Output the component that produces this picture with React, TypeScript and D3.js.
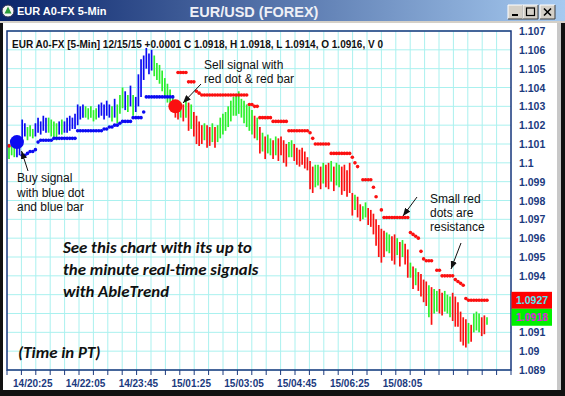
import React from "react";
import * as d3 from "d3";

const WIDTH = 565;
const HEIGHT = 396;

// ---------- data ----------
const priceTicks = d3.range(1089, 1108).map((v) => v / 1000);
const timeLabels = ["14/20:25", "14/22:05", "14/23:45", "15/01:25", "15/03:05", "15/04:45", "15/06:25", "15/08:05"];
const firstLabelBar = 9;
const barsPerLabel = 20;

const barColors = (
  "GGGBBBBGGG" + "BBBBBGGGGB" + "GBBBBBBBBG" + "GGGGBBBBBG" + "BGGGBGBGBB" +
  "BBBBBGGGGG" + "GGGRRGRGRG" + "RRRRGRRGRG" + "GGGGGGGGGG" + "GGGRGRGRGG" +
  "RGRRRRGGRR" + "RRRRRRGGRG" + "RRGRGGRRRR" + "RGRRGGRRRR" + "RRRGGRRGRG" +
  "RRGRGRRRRG" + "RGGRRGGGRR" + "RRRRGRGGGR" + "RG"
).split("");

const highs = [
  1.1010, 1.1012, 1.1010, 1.1013, 1.1012, 1.1023, 1.1021, 1.1019, 1.1020, 1.1018,
  1.1021, 1.1024, 1.1022, 1.1025, 1.1024, 1.1024, 1.1023, 1.1022, 1.1021, 1.1022,
  1.1023, 1.1022, 1.1024, 1.1025, 1.1024, 1.1026, 1.1031, 1.1030, 1.1031, 1.1030,
  1.1029, 1.1030, 1.1028, 1.1029, 1.1031, 1.1032, 1.1031, 1.1033, 1.1031, 1.1030,
  1.1034, 1.1031, 1.1036, 1.1040, 1.1038, 1.1036, 1.1041, 1.1036, 1.1035, 1.1047,
  1.1055, 1.1057, 1.1061, 1.1058, 1.1060, 1.1057, 1.1053, 1.1052, 1.1049, 1.1045,
  1.1042, 1.1039, 1.1036, 1.1033, 1.1031, 1.1032, 1.1031, 1.1033, 1.1032, 1.1031,
  1.1027, 1.1025, 1.1022, 1.1020, 1.1021, 1.1020, 1.1019, 1.1021, 1.1019, 1.1020,
  1.1024, 1.1026, 1.1027, 1.1030, 1.1033, 1.1035, 1.1036, 1.1038, 1.1034, 1.1033,
  1.1031, 1.1030, 1.1028, 1.1025, 1.1024, 1.1019, 1.1016, 1.1014, 1.1015, 1.1013,
  1.1012, 1.1014, 1.1013, 1.1014, 1.1012, 1.1010, 1.1011, 1.1012, 1.1010, 1.1008,
  1.1007, 1.1008, 1.1006, 1.1003, 1.1001, 1.0998, 1.0999, 1.0999, 1.0998, 1.1000,
  1.0999, 1.1000, 1.1001, 1.0998, 1.1000, 1.0999, 1.0998, 1.0999, 1.0996, 1.1000,
  1.0984, 1.0983, 1.0982, 1.0978, 1.0977, 1.0979, 1.0976, 1.0975, 1.0973, 1.0970,
  1.0967, 1.0965, 1.0964, 1.0963, 1.0962, 1.0961, 1.0962, 1.0960, 1.0958, 1.0959,
  1.0957, 1.0954, 1.0947, 1.0945, 1.0944, 1.0942, 1.0941, 1.0938, 1.0937, 1.0935,
  1.0934, 1.0933, 1.0932, 1.0933, 1.0931, 1.0932, 1.0930, 1.0929, 1.0931, 1.0929,
  1.0926, 1.0921, 1.0918, 1.0917, 1.0915, 1.0914, 1.0920, 1.0921, 1.0920, 1.0918,
  1.0919, 1.0918,
];

const lows = [
  1.1002, 1.1004, 1.1003, 1.1003, 1.1004, 1.1012, 1.1014, 1.1012, 1.1014, 1.1013,
  1.1014, 1.1016, 1.1015, 1.1017, 1.1016, 1.1016, 1.1014, 1.1013, 1.1012, 1.1015,
  1.1015, 1.1016, 1.1016, 1.1017, 1.1018, 1.1018, 1.1020, 1.1023, 1.1024, 1.1024,
  1.1023, 1.1024, 1.1022, 1.1023, 1.1024, 1.1025, 1.1023, 1.1025, 1.1024, 1.1022,
  1.1024, 1.1021, 1.1026, 1.1029, 1.1028, 1.1027, 1.1030, 1.1025, 1.1027, 1.1030,
  1.1035, 1.1044, 1.1050, 1.1047, 1.1049, 1.1046, 1.1044, 1.1042, 1.1038, 1.1035,
  1.1032, 1.1030, 1.1028, 1.1024, 1.1023, 1.1024, 1.1022, 1.1024, 1.1017, 1.1018,
  1.1014, 1.1010, 1.1009, 1.1010, 1.1012, 1.1008, 1.1009, 1.1011, 1.1008, 1.1011,
  1.1013, 1.1015, 1.1017, 1.1019, 1.1022, 1.1025, 1.1025, 1.1026, 1.1024, 1.1021,
  1.1019, 1.1017, 1.1015, 1.1013, 1.1012, 1.1005, 1.1006, 1.1002, 1.1005, 1.1004,
  1.1002, 1.1004, 1.1001, 1.1004, 1.1000, 1.0998, 1.1003, 1.1003, 1.1001, 1.0999,
  1.0998, 1.0999, 1.0997, 1.0996, 1.0986, 1.0984, 1.0987, 1.0988, 1.0986, 1.0989,
  1.0987, 1.0986, 1.0990, 1.0985, 1.0988, 1.0987, 1.0983, 1.0985, 1.0982, 1.0984,
  1.0972, 1.0975, 1.0971, 1.0969, 1.0970, 1.0971, 1.0967, 1.0966, 1.0962, 1.0956,
  1.0950, 1.0947, 1.0950, 1.0953, 1.0952, 1.0948, 1.0946, 1.0951, 1.0945, 1.0950,
  1.0946, 1.0939, 1.0939, 1.0933, 1.0935, 1.0932, 1.0929, 1.0926, 1.0924, 1.0918,
  1.0914, 1.0920, 1.0921, 1.0920, 1.0919, 1.0921, 1.0920, 1.0918, 1.0916, 1.0913,
  1.0913, 1.0905, 1.0903, 1.0902, 1.0904, 1.0905, 1.0910, 1.0911, 1.0910, 1.0908,
  1.0909, 1.0914,
];

const supportStart = 5;
const supportDots = [
  1.1004, 1.1004, 1.1005, 1.1006, 1.1006, 1.1007,
  1.1011, 1.1012, 1.1012, 1.1012, 1.1012, 1.1012,
  1.1013, 1.1013, 1.1013, 1.1013, 1.1013, 1.1013, 1.1013, 1.1013, 1.1013,
  1.1017, 1.1017, 1.1017, 1.1017, 1.1017, 1.1017, 1.1017, 1.1017, 1.1017, 1.1017,
  1.1018, 1.1018, 1.1019, 1.1019, 1.1020, 1.1020,
  1.1021, 1.1022, 1.1022, 1.1022, 1.1022,
  1.1024, 1.1024, 1.1024, 1.1024, 1.1027,
  1.1035, 1.1035, 1.1035, 1.1035, 1.1035, 1.1035, 1.1035, 1.1035, 1.1035, 1.1035, 1.1035,
];

const earlyResistanceBar = 0;
const earlyResistance = [1.1009];
const resistanceStart = 64;
const resistanceDots: (number | null)[] = [
  1.1048, 1.1048, 1.1048, 1.1048, 1.1043, 1.1043, 1.1043, 1.1038, 1.1037,
  1.1036, 1.1036, 1.1036, 1.1036, 1.1036, 1.1036, 1.1036, 1.1036, 1.1036,
  1.1036, 1.1036, 1.1036, 1.1036, 1.1036, 1.1036, 1.1036, 1.1036, 1.1036,
  1.1031, 1.1031, 1.1030, 1.1030,
  1.1024, 1.1024, 1.1024, 1.1024, 1.1024,
  1.1022, 1.1022, 1.1022, 1.1022, 1.1022, 1.1022,
  1.1017, 1.1017, 1.1017, 1.1017, 1.1017, 1.1017, 1.1017, 1.1017,
  1.1016, 1.1013,
  1.1010, 1.1010, 1.1010, 1.1010, 1.1010, 1.1010,
  1.1005, 1.1005, 1.1005, 1.1005, 1.1005, 1.1005, 1.1005, 1.1005,
  1.1003, 1.1000, 1.0998, null,
  1.0991, 1.0991, 1.0991, 1.0991,
  1.0987, 1.0982, null, 1.0975,
  1.0971, 1.0971, 1.0971, 1.0971, 1.0971, 1.0971, 1.0971, 1.0971, 1.0971, 1.0971,
  1.0963, 1.0962, 1.0961, 1.0960,
  1.0953, 1.0949, 1.0948, 1.0948, 1.0948, null,
  1.0943, 1.0943,
  1.0940, 1.0940, 1.0940, 1.0940, 1.0940,
  1.0938, 1.0937, 1.0936, 1.0935,
  1.0928, 1.0927, 1.0927, 1.0927, 1.0927, 1.0927, 1.0927, 1.0927, 1.0927,
];

const buySignal = { bar: 3, price: 1.1011 };
const sellSignal = { bar: 63, price: 1.103 };
const resistanceLevel = 1.0927;
const lastClose = 1.0918;

const windowTitle = "EUR A0-FX 5-Min";
const chartTitle = "EUR/USD (FOREX)";
const headerText = "EUR A0-FX [5-Min] 12/15/15  +0.0001 C 1.0918, H 1.0918, L 1.0914, O 1.0916, V 0";
const buyNote = ["Buy signal", "with blue dot", "and blue bar"];
const sellNote = ["Sell signal with", "red dot & red bar"];
const resistNote = ["Small red", "dots are", "resistance"];
const promoNote = ["See this chart with its up to", "the minute real-time signals", "with AbleTrend"];
const timeNote = "(Time in PT)";

// ---------- styles ----------
const FRAME = { left: 7, right: 511, top: 31, bottom: 370 };
const GRID_COLS = 35;
const COLORS: Record<string, string> = { B: "#0b0bf2", G: "#2cf02c", R: "#fb1010" };
const NAVY = "#1b3a7e";
const ARIAL = "'Liberation Sans', Arial, sans-serif";
const CAL = "Carlito, Lato, 'Open Sans', sans-serif";
const BOX_H = 17;

export default function App() {
  const n = highs.length;
  const x = d3.scaleLinear().domain([0, n - 1]).range([9, 487]);
  const y = d3.scaleLinear().domain([1.089, 1.107]).range([FRAME.bottom, FRAME.top]);
  const gx = d3.scaleLinear().domain([0, GRID_COLS]).range([FRAME.left, FRAME.right]);
  const gridCols = d3.range(1, GRID_COLS);
  const tickCols = d3.range(0, GRID_COLS + 1);
  const fmt = (v: number) => String(+v.toFixed(3));

  const boxTop = y(resistanceLevel) - BOX_H / 2;
  const boxBottom = y(lastClose) + BOX_H / 2;
  const visibleTicks = priceTicks.filter((p) => y(p) < boxTop - 2 || y(p) > boxBottom + 2);

  const support = supportDots.map((p, k) => ({ bar: supportStart + k, price: p }));
  const resistance = [
    ...earlyResistance.map((p, k) => ({ bar: earlyResistanceBar + k, price: p })),
    ...resistanceDots.map((p, k) => ({ bar: resistanceStart + k, price: p })),
  ].filter((d) => d.price !== null) as { bar: number; price: number }[];

  const arrows = [
    { x1: 28, y1: 171, x2: 21.5, y2: 151 },
    { x1: 201, y1: 84, x2: 183, y2: 103 },
    { x1: 417, y1: 197, x2: 403, y2: 216 },
    { x1: 461, y1: 243, x2: 451, y2: 269 },
  ];

  const btn = (bx: number, glyph: React.ReactNode, key: string) => (
    <g key={key} transform={`translate(${bx},5)`}>
      <rect x={0} y={0} width={15} height={14} fill="#d4d0c8" />
      <path d="M0,14 L0,0 L15,0" stroke="#ffffff" fill="none" />
      <path d="M0,14 L15,14 L15,0" stroke="#404040" fill="none" />
      {glyph}
    </g>
  );

  return (
    <svg
      width={WIDTH}
      height={HEIGHT}
      style={{ position: "absolute", left: 0, top: 0, display: "block" }}
      xmlns="http://www.w3.org/2000/svg"
    >
      <defs>
        <linearGradient id="tb" x1="0" x2="1" y1="0" y2="0">
          <stop offset="0" stopColor="#0a246a" />
          <stop offset="1" stopColor="#a6caf0" />
        </linearGradient>
        <marker id="ah" viewBox="0 0 10 8" refX="10" refY="4" markerWidth="8" markerHeight="6.4"
          markerUnits="userSpaceOnUse" orient="auto">
          <path d="M0,0 L10,4 L0,8 z" fill="#111" />
        </marker>
      </defs>

      {/* window chrome */}
      <rect x={0} y={0} width={WIDTH} height={HEIGHT} fill="#111" />
      <rect x={3} y={21} width={555} height={369} fill="#ffffff" />
      <rect x={557} y={21} width={4} height={369} fill="#c8c8c8" />
      <rect x={0} y={0} width={WIDTH} height={21} fill="url(#tb)" />
      <rect x={0} y={21} width={WIDTH} height={2} fill="#d4d0c8" />
      <circle cx={8} cy={11} r={6} fill="#f4f4f4" stroke="#335" strokeWidth={1} />
      <path d="M8,6.5 L11.5,13.5 L4.5,13.5 z" fill="#2a9a3a" />
      <text x={17} y={15} fill="#ffffff" fontFamily={ARIAL} fontWeight="bold" fontSize={11}>{windowTitle}</text>
      <text x={254} y={17} fill="#eef0f6" fontFamily={ARIAL} fontWeight="bold" fontSize={14.5} textAnchor="middle">{chartTitle}</text>
      {btn(508, <rect x={4} y={9} width={6} height={2} fill="#000" />, "min")}
      {btn(523, <rect x={3.5} y={3} width={8} height={7.5} fill="none" stroke="#000" strokeWidth={1.2} />, "max")}
      {btn(540, <path d="M4,3.5 L11,10.5 M11,3.5 L4,10.5" stroke="#000" strokeWidth={1.6} />, "close")}

      {/* grid */}
      <g stroke="#aaf1ef" strokeWidth={1}>
        {priceTicks.map((p) => (
          <line key={"h" + p} x1={FRAME.left} x2={FRAME.right} y1={y(p)} y2={y(p)} />
        ))}
        {gridCols.map((c) => (
          <line key={"v" + c} x1={gx(c)} x2={gx(c)} y1={FRAME.top} y2={FRAME.bottom} />
        ))}
      </g>

      {/* bars */}
      <g strokeWidth={1.7}>
        {highs.map((h, i) => (
          <line key={"b" + i} x1={x(i)} x2={x(i)} y1={y(h)} y2={y(lows[i])} stroke={COLORS[barColors[i]]} />
        ))}
      </g>

      {/* support / resistance dots */}
      <g fill={COLORS.B}>
        {support.map((d) => (
          <circle key={"s" + d.bar} cx={x(d.bar)} cy={y(d.price)} r={1.8} />
        ))}
      </g>
      <g fill={COLORS.R}>
        {resistance.map((d) => (
          <circle key={"r" + d.bar} cx={x(d.bar)} cy={y(d.price)} r={1.8} />
        ))}
      </g>

      {/* signals */}
      <circle cx={x(buySignal.bar)} cy={y(buySignal.price)} r={7} fill={COLORS.B} />
      <circle cx={x(sellSignal.bar)} cy={y(sellSignal.price)} r={7} fill={COLORS.R} />

      {/* frame */}
      <rect x={FRAME.left} y={FRAME.top} width={FRAME.right - FRAME.left} height={FRAME.bottom - FRAME.top}
        fill="none" stroke="#16367c" strokeWidth={1.5} />

      {/* header */}
      <text x={12} y={48} fontFamily={ARIAL} fontWeight="bold" fontSize={10.5} fill="#111" textLength={371} lengthAdjust="spacingAndGlyphs">
        {headerText}
      </text>

      {/* y axis */}
      <g fontFamily={ARIAL} fontWeight="bold" fontSize={10.5} fill={NAVY}>
        {visibleTicks.map((p) => (
          <text key={"yl" + p} x={519} y={y(p) + 4}>{fmt(p)}</text>
        ))}
      </g>
      <rect x={511.5} y={boxTop} width={40.5} height={BOX_H} fill="#ff0000" />
      <text x={516} y={y(resistanceLevel) + 4} fontFamily={ARIAL} fontWeight="bold" fontSize={10.5} fill="#55e6f2">
        {resistanceLevel.toFixed(4)}
      </text>
      <rect x={511.5} y={y(lastClose) - BOX_H / 2} width={40.5} height={BOX_H} fill="#00f000" />
      <text x={516} y={y(lastClose) + 4} fontFamily={ARIAL} fontWeight="bold" fontSize={10.5} fill="#e020e0">
        {lastClose.toFixed(4)}
      </text>

      {/* x axis */}
      <g stroke={NAVY} strokeWidth={1}>
        {tickCols.map((c) => (
          <line key={"t" + c} x1={gx(c)} x2={gx(c)} y1={FRAME.bottom} y2={FRAME.bottom + 5} />
        ))}
      </g>
      <g fontFamily={ARIAL} fontWeight="bold" fontSize={10} fill={NAVY} textAnchor="middle">
        {timeLabels.map((t, k) => (
          <text key={t} x={x(firstLabelBar + k * barsPerLabel)} y={387}>{t}</text>
        ))}
      </g>

      {/* annotations */}
      <g fontFamily={ARIAL} fontSize={12} fill="#111">
        {buyNote.map((t, k) => (
          <text key={t} x={17} y={182 + k * 14.5}>{t}</text>
        ))}
        {sellNote.map((t, k) => (
          <text key={t} x={204} y={69 + k * 14}>{t}</text>
        ))}
        {resistNote.map((t, k) => (
          <text key={t} x={430} y={203 + k * 14}>{t}</text>
        ))}
      </g>
      <g stroke="#111" strokeWidth={1}>
        {arrows.map((a, k) => (
          <line key={"a" + k} x1={a.x1} y1={a.y1} x2={a.x2} y2={a.y2} markerEnd="url(#ah)" />
        ))}
      </g>
      <g fontFamily={CAL} fontSize={16.8} fontWeight="bold" fontStyle="italic" fill="#111">
        {promoNote.map((t, k) => (
          <text key={t} x={63} y={253 + k * 22}>{t}</text>
        ))}
        <text x={18} y={358}>{timeNote}</text>
      </g>
    </svg>
  );
}
